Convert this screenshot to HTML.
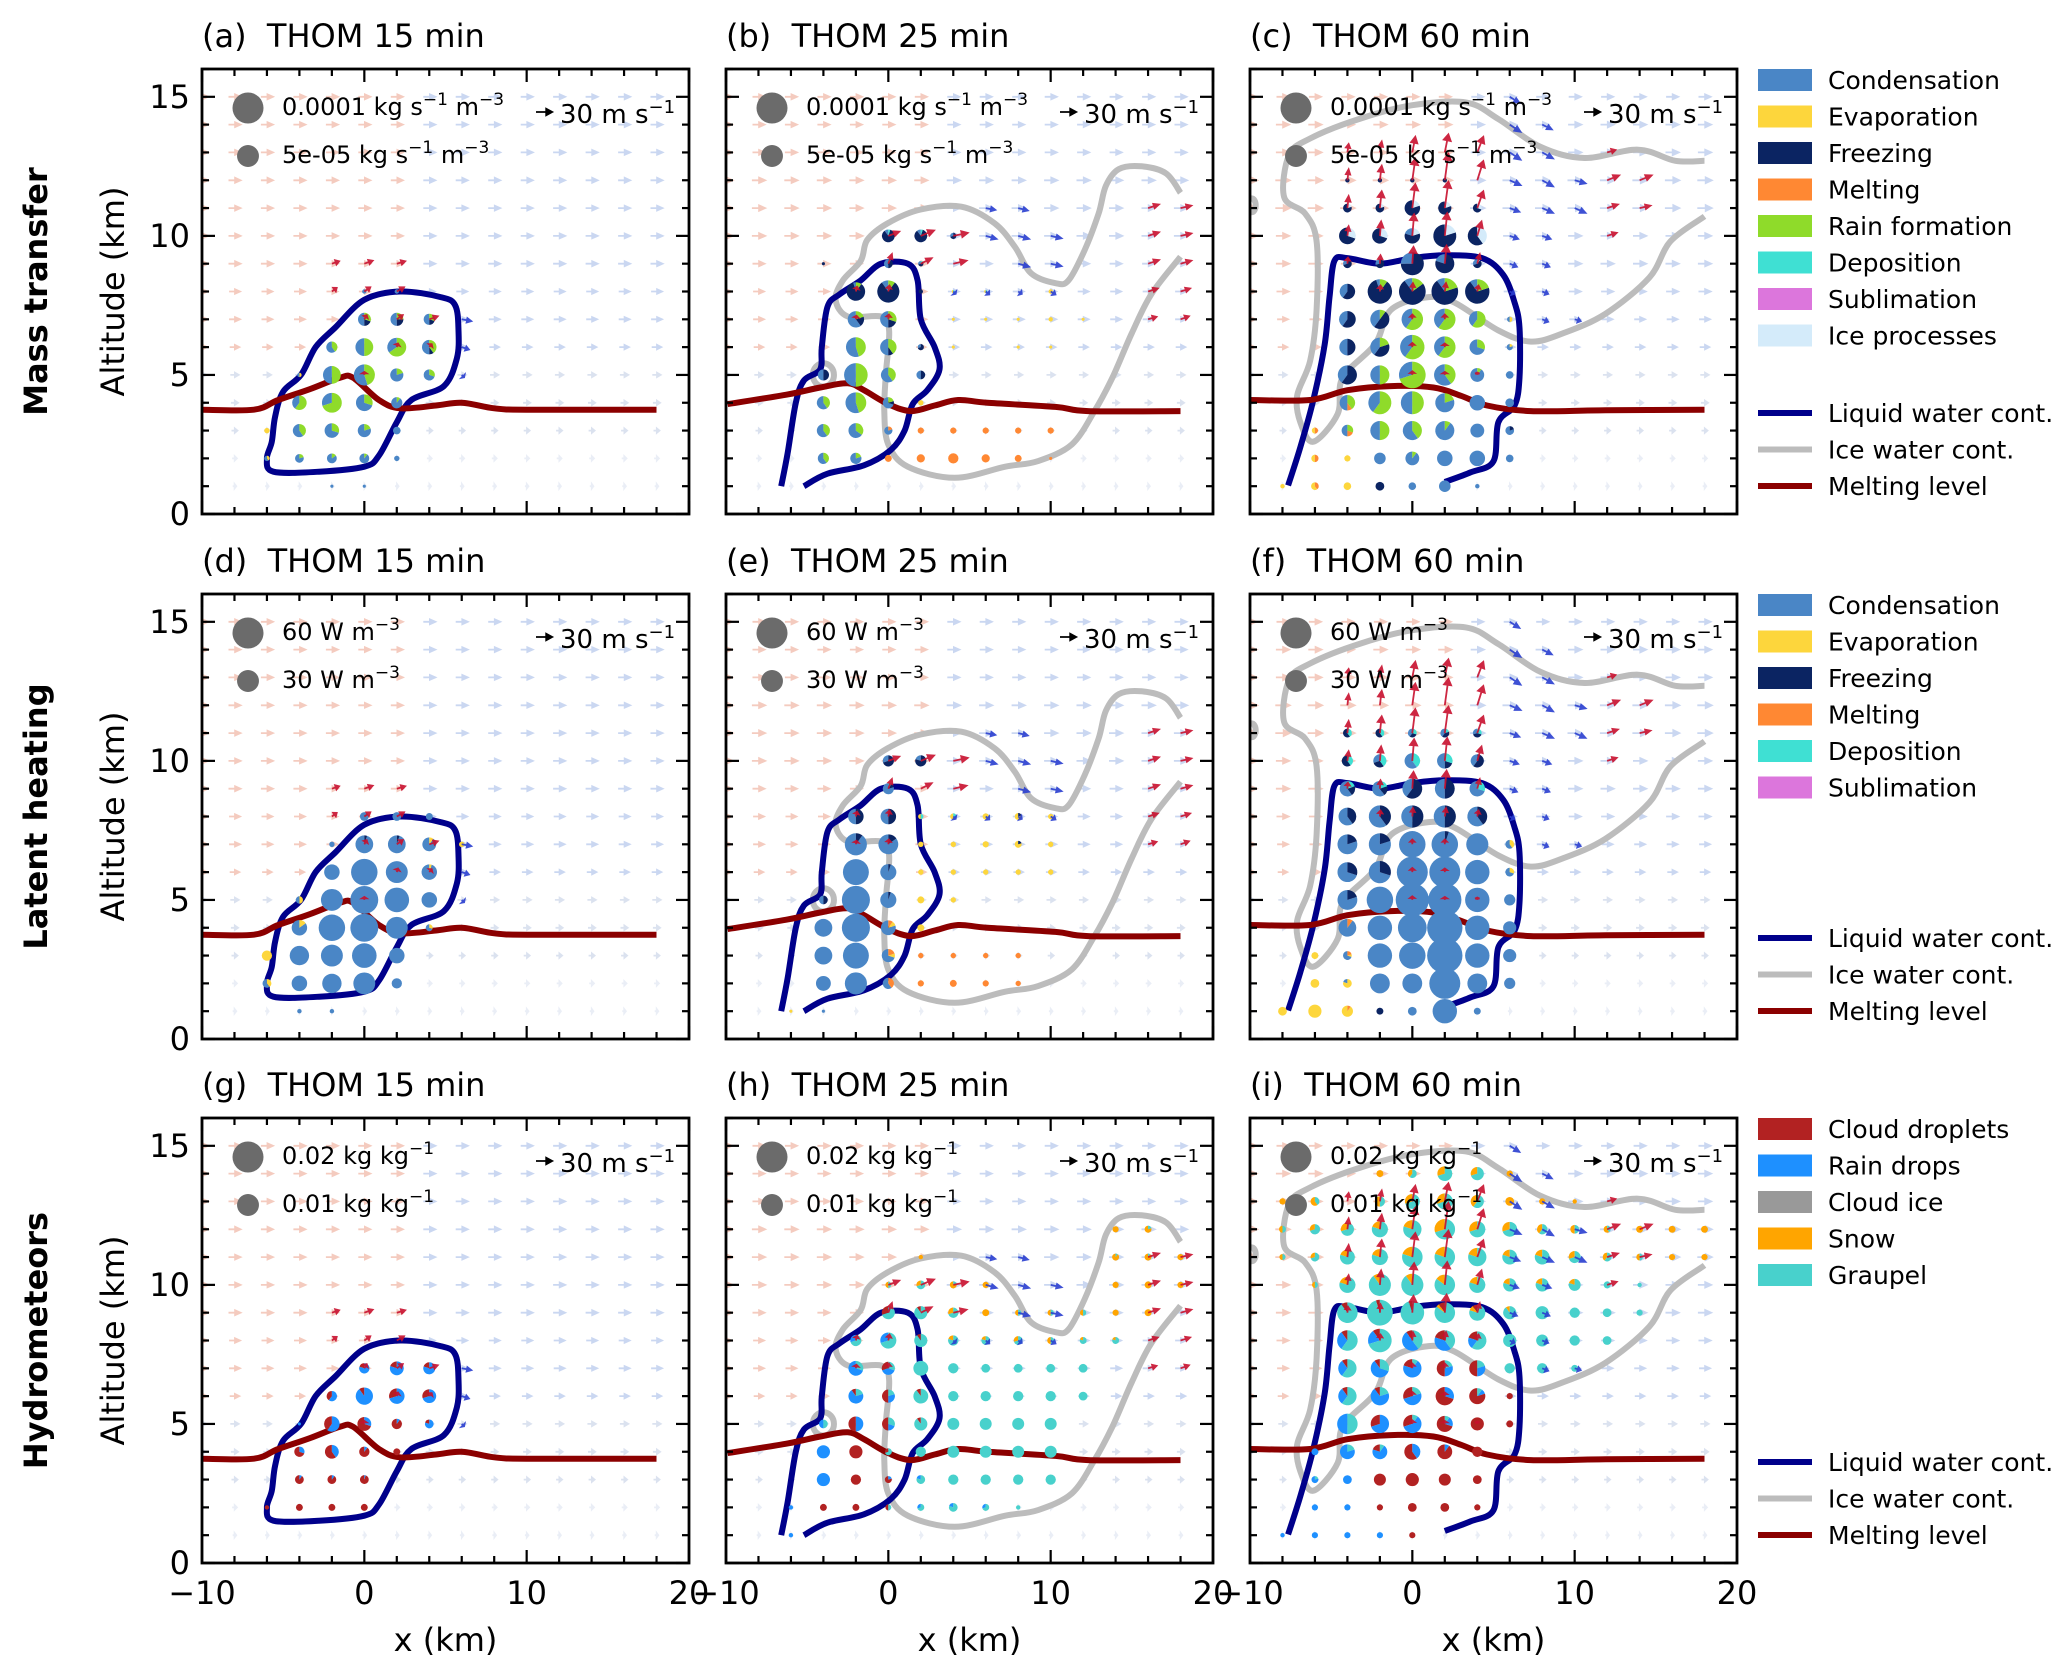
<!DOCTYPE html>
<html><head><meta charset="utf-8"><title>THOM microphysics panels</title>
<style>
html,body{margin:0;padding:0;background:#fff;}
svg{display:block;font-family:"DejaVu Sans","Liberation Sans",sans-serif;}
</style></head>
<body>
<svg id="fig" width="2067" height="1675" viewBox="0 0 2067 1675" xmlns="http://www.w3.org/2000/svg">
<rect width="2067" height="1675" fill="#fff"/>
</svg>
<script>
// ---------------- data ----------------
const panelLetters = ["a","b","c","d","e","f","g","h","i"];
const panelTimes = ["15 min","25 min","60 min"];
const rowNames = ["Mass transfer","Latent heating","Hydrometeors"];
const xTicks = [-10,0,10,20];
const xTickLabels = ["\u221210","0","10","20"];
const yTicks = [0,5,10,15];
const yTickLabels = ["0","5","10","15"];
const row1Cats = ["Condensation","Evaporation","Freezing","Melting","Rain formation","Deposition","Sublimation","Ice processes"];
const row1Colors = ["#4a86c6","#fdd63c","#0b2462","#ff8833","#8fdb2a","#3fe0d3","#dc76dc","#d4ebfa"];
const row2Cats = ["Condensation","Evaporation","Freezing","Melting","Deposition","Sublimation"];
const row2Colors = ["#4a86c6","#fdd63c","#0b2462","#ff8833","#3fe0d3","#dc76dc"];
const row3Cats = ["Cloud droplets","Rain drops","Cloud ice","Snow","Graupel"];
const row3Colors = ["#b22222","#1e90ff","#999999","#ffa500","#48d1cc"];
// size legend labels: [base, sup1, middle, sup2]
const sizeBig = [["0.0001 kg s","\u22121"," m","\u22123"],["60 W m","\u22123","",""],["0.02 kg kg","\u22121","",""]];
const sizeSmall = [["5e-05 kg s","\u22121"," m","\u22123"],["30 W m","\u22123","",""],["0.01 kg kg","\u22121","",""]];
const sizeBigVal = [1.0,1.0,1.0];
const sizeSmallVal = [0.5,0.5,0.5];

// contours (x km, altitude km)
const lwc_a = [[-6,2.0],[-5.6,1.52],[-2.8,1.52],[0,1.7],[0.9,2.1],[2,3.3],[2.9,4.1],[4.9,4.6],[5.7,5.6],[5.8,6.6],[5.6,7.5],[4.7,7.8],[2.2,8.0],[0,7.7],[-1.8,6.7],[-3,6],[-3.9,5],[-5,4.4],[-5.5,3.5],[-5.7,2.6]];
const ml_a = [[-10,3.75],[-6.8,3.75],[-5.3,4.1],[-3.3,4.5],[-1.5,4.9],[-0.7,4.9],[0.9,4.1],[2.2,3.8],[4.4,3.9],[6,4.0],[8,3.8],[10,3.75],[18,3.75]];
const lwc_b = [[-6.6,1.0],[-6.2,2.2],[-5.7,4.0],[-5.2,4.8],[-4.2,5.2],[-4.1,6.0],[-3.75,7.45],[-3.0,7.9],[-1.7,8.4],[-0.45,9.0],[1.2,9.0],[1.8,8.4],[2.0,7.0],[2.85,6.0],[3.15,5.2],[2.4,4.45],[1.5,3.95],[1.0,3.0],[0.15,2.3],[-1.5,1.75],[-3.75,1.45],[-5.2,1.0]];
const iwc_b = [[18,9.25],[16.2,7.9],[15,6.5],[13.8,4.9],[12.7,3.7],[11.3,2.5],[9.2,1.9],[7.2,1.7],[4.1,1.3],[1.2,1.7],[0,2.5],[-0.25,3.7],[-0.15,5.05],[0.05,6.6],[-0.45,7.1],[-2.5,7.1],[-3.25,7.7],[-2.8,8.4],[-1.7,9.1],[-1.3,9.85],[-0.05,10.45],[2,10.95],[4.5,11.05],[6.55,10.45],[7.8,9.6],[8.8,8.65],[10.3,8.3],[11.1,8.4],[12.1,9.5],[12.95,10.8],[13.4,11.8],[14.2,12.4],[15.6,12.5],[17.1,12.25],[18,11.55]];
const iwc_b_ring = [[-4,5],[0.65,0.42]];
const ml_b = [[-9.9,3.95],[-6.2,4.3],[-4.2,4.55],[-2.5,4.7],[-1.5,4.45],[0,3.95],[1.4,3.7],[2.85,3.9],[4.3,4.1],[6.1,4.0],[10.3,3.85],[12.3,3.7],[18,3.7]];
const lwc_c = [[-7.65,1.03],[-6.9,2.4],[-6.1,4.1],[-5.4,6.1],[-5.1,7.8],[-4.8,9.1],[-4,9.2],[-2,9.0],[0,9.2],[2,9.3],[4.3,9.2],[5.6,8.6],[6.3,7.6],[6.6,6.7],[6.6,4.9],[6.3,3.9],[5.3,3.3],[5,1.9],[3.6,1.5],[2,1.15]];
const iwc_c = [[18,12.7],[16.2,12.7],[13.9,13.1],[10.6,12.8],[7.9,13.2],[5.3,14.2],[3.3,14.8],[0,14.7],[-3.3,14.2],[-6.3,13.5],[-7.6,12.9],[-7.9,11.4],[-6.6,10.8],[-5.9,9.8],[-5.9,7.35],[-6.3,5.5],[-7.1,4.25],[-6.9,3.3],[-6.1,2.6],[-4.6,3.6],[-4.3,4.9],[-2.3,6.1],[-1.3,7.35],[1,7.8],[2.6,7.6],[5.3,6.6],[7.3,6.2],[9.3,6.5],[11.9,7.2],[14.6,8.5],[15.9,9.8],[18,10.7]];
const iwc_c_blob = [[-9.9,11.1],[0.25,0.25]];
const ml_c = [[-10,4.1],[-6.3,4.1],[-4,4.45],[-1.3,4.6],[1.3,4.55],[3,4.25],[4.6,3.9],[7.3,3.7],[11.9,3.73],[18,3.75]];

// pies: [x km, altitude km, value (legend units), fractions by category]
const pies_a = [[0,7,.18,[.5,0,.2,0,.3]],[2,7,.18,[.5,0,.25,0,.25]],[4,7,.13,[.5,0,.2,0,.3]],
[-2,6,.13,[.6,0,0,0,.4]],[0,6,.33,[.5,0,0,0,.5]],[2,6,.37,[.35,0,0,0,.65]],[4,6,.22,[.5,0,.1,0,.4]],
[-2,5,.33,[.5,0,0,0,.5]],[0,5,.46,[.55,0,0,0,.45]],[2,5,.18,[.8,0,0,0,.2]],[4,5,.13,[.7,0,0,0,.3]],
[-4,4,.22,[.4,0,0,0,.6]],[-2,4,.41,[.3,0,0,0,.7]],[0,4,.29,[.7,0,0,0,.3]],[2,4,.13,[.9,0,0,0,.1]],
[-4,3,.18,[.6,0,0,0,.4]],[-2,3,.22,[.7,0,0,0,.3]],[0,3,.18,[.8,0,0,0,.2]],[2,3,.06,[1]],
[-4,2,.08,[.8,0,0,0,.2]],[-2,2,.1,[.85,0,0,0,.15]],[0,2,.1,[.9,0,0,0,.1]],[2,2,.03,[1]],
[-6,3,.03,[0,1]],[-6,2,.03,[.6,.4]],[-2,1,.01,[1]],[0,1,.01,[1]],[-4,5,.02,[.5,.5]],[0,8,.02,[1]],[2,8,.02,[1]]];
const pies_b = [[0,10,.17,[.1,0,.85,0,0,.05]],[2,10,.17,[.1,0,.85,0,0,.05]],[4,10,.04,[.3,0,.7]],
[0,9,.08,[.5,0,.4,0,0,.1]],[2,9,.03,[.3,0,.6,0,0,.1]],[-4,9,.01,[0,0,1]],
[-2,8,.36,[.05,0,.85,0,.1]],[0,8,.51,[.1,0,.8,0,.1]],[2,8,.02,[0,0,1]],
[-2,7,.28,[.6,0,.2,0,.2]],[0,7,.28,[.5,0,.2,0,.3]],
[-2,6,.41,[.55,0,0,0,.45]],[0,6,.28,[.5,0,.1,0,.4]],[2,6,.04,[.3,0,.7]],
[-4,5,.13,[.5,0,.5]],[-2,5,.58,[.5,0,0,0,.5]],[0,5,.23,[.6,0,0,0,.4]],[2,5,.08,[.5,0,.5]],
[-4,4,.18,[.6,0,0,0,.4]],[-2,4,.45,[.55,0,0,0,.45]],[0,4,.13,[.7,0,.1,0,.2]],[2,4,.03,[0,1]],
[-4,3,.18,[.6,0,0,0,.4]],[-2,3,.23,[.65,0,0,0,.35]],[0,3,.07,[.8,0,0,.2]],
[2,3,.04,[0,0,0,1]],[4,3,.04,[0,0,0,1]],[6,3,.04,[0,0,0,1]],[8,3,.04,[0,0,0,1]],[10,3,.04,[0,0,0,1]],
[-4,2,.13,[.6,0,0,0,.4]],[-2,2,.13,[.8,0,0,0,.2]],[0,2,.05,[0,0,0,1]],[2,2,.07,[0,0,0,1]],[4,2,.11,[0,0,0,1]],[6,2,.07,[0,0,0,1]],[8,2,.05,[0,0,0,1]],[10,2,.01,[0,0,0,1]],
[4,8,.01,[0,.5,0,0,0,.5]],[6,8,.01,[0,.5,0,0,0,.5]],[10,8,.02,[0,1]],[4,7,.01,[0,1]],[6,7,.01,[0,1]],[8,7,.01,[0,1]],[10,7,.02,[0,1]],[12,7,.01,[0,1]],[4,6,.01,[0,1]],[8,6,.01,[0,1]],[10,6,.01,[0,1]]];
const pies_c = [[-4,12,.02,[0,0,1]],[-2,12,.02,[0,0,1]],[0,12,.02,[0,0,1]],[2,12,.02,[0,0,1]],
[-4,11,.08,[0,0,.8,0,0,0,0,.2]],[-2,11,.08,[0,0,.8,0,0,0,0,.2]],[0,11,.25,[0,0,.8,0,0,0,0,.2]],[2,11,.18,[0,0,.8,0,0,0,0,.2]],[4,11,.08,[0,0,.7,0,0,0,0,.3]],
[-4,10,.29,[0,0,.7,0,0,0,0,.3]],[-2,10,.25,[0,0,.7,0,0,0,0,.3]],[0,10,.25,[.2,0,.6,0,0,0,0,.2]],[2,10,.55,[0,0,.8,0,0,0,0,.2]],[4,10,.38,[0,0,.6,0,0,0,0,.4]],
[-4,9,.08,[.3,0,.7]],[-2,9,.08,[.3,0,.7]],[0,9,.55,[.25,0,.75]],[2,9,.38,[.2,0,.8]],[4,9,.08,[.3,0,.6,0,0,0,0,.1]],
[-4,8,.25,[.4,0,.6]],[-2,8,.62,[.05,0,.85,0,.1]],[0,8,.74,[.1,0,.75,0,.15]],[2,8,.74,[.1,0,.7,0,.2]],[4,8,.62,[.1,0,.7,0,.2]],
[-4,7,.29,[.4,0,.6]],[-2,7,.38,[.4,0,.5,0,.1]],[0,7,.48,[.4,0,0,0,.6]],[2,7,.48,[.4,0,0,0,.6]],[4,7,.29,[.4,0,0,0,.6]],[6,7,.03,[.5,.5]],
[-4,6,.29,[.5,0,.5]],[-2,6,.38,[.4,0,.4,0,.2]],[0,6,.62,[.4,0,0,0,.6]],[2,6,.48,[.4,0,0,0,.6]],[4,6,.25,[.7,0,0,0,.3]],[6,6,.04,[.8,.2]],
[-4,5,.38,[.4,0,.6]],[-2,5,.38,[.5,0,0,0,.5]],[0,5,.74,[.3,0,0,0,.7]],[2,5,.48,[.6,0,0,0,.4]],[4,5,.2,[.9,0,0,0,.1]],[6,5,.06,[1]],
[-4,4,.25,[.5,0,0,.1,.4]],[-2,4,.55,[.4,0,0,0,.6]],[0,4,.55,[.5,0,0,0,.5]],[2,4,.38,[.8,0,0,0,.2]],[4,4,.25,[1]],[6,4,.08,[1]],
[-6,3,.04,[0,.5,0,.5]],[-4,3,.14,[.5,0,0,.2,.3]],[-2,3,.38,[.5,0,0,0,.5]],[0,3,.38,[.6,0,0,0,.4]],[2,3,.38,[.9,0,0,0,.1]],[4,3,.2,[1]],[6,3,.08,[.8,0,.2]],
[-6,2,.06,[0,.5,0,.5]],[-4,2,.04,[0,1]],[-2,2,.14,[1]],[0,2,.2,[.9,0,0,0,.1]],[2,2,.25,[1]],[4,2,.25,[1]],[6,2,.06,[1]],
[-8,1,.02,[0,1]],[-6,1,.06,[0,.6,0,.4]],[-4,1,.06,[0,1]],[-2,1,.08,[0,0,1]],[0,1,.06,[1]],[2,1,.14,[1]],[4,1,.02,[1]]];

const pies_d = [[0,8,.08,[1]],[2,8,.08,[1]],[4,8,.05,[1]],
[0,7,.33,[.95,0,.05]],[2,7,.33,[.95,0,.05]],[4,7,.2,[.9,.1]],[-2,7,.03,[1]],[6,7,.03,[0,1]],
[-2,6,.25,[1]],[0,6,.73,[1]],[2,6,.5,[1]],[4,6,.25,[.95,.05]],
[-2,5,.5,[1]],[0,5,.81,[1]],[2,5,.63,[1]],[4,5,.25,[1]],[-4,5,.06,[.5,.5]],
[-4,4,.25,[.85,.15]],[-2,4,.73,[1]],[0,4,.81,[1]],[2,4,.5,[1]],[4,4,.05,[.7,.3]],
[-6,3,.11,[0,1]],[-4,3,.39,[1]],[-2,3,.5,[1]],[0,3,.63,[1]],[2,3,.25,[1]],
[-6,2,.08,[.6,.4]],[-4,2,.25,[1]],[-2,2,.39,[1]],[0,2,.5,[1]],[2,2,.11,[1]],
[-4,1,.02,[1]],[-2,1,.02,[1]]];
const pies_e = [[0,10,.13,[.3,0,.7]],[2,10,.13,[.2,0,.8]],
[0,9,.13,[.8,0,.1,0,.1]],
[-2,8,.25,[.5,0,.5]],[0,8,.25,[.5,0,.5]],
[-2,7,.51,[.9,0,.1]],[0,7,.41,[.85,0,.15]],
[-2,6,.7,[1]],[0,6,.27,[.95,0,.05]],
[-4,5,.08,[.5,0,.5]],[-2,5,.82,[1]],[0,5,.27,[.95,0,.05]],
[-4,4,.33,[1]],[-2,4,.82,[1]],[0,4,.23,[.8,.1,0,.1]],
[-4,3,.33,[1]],[-2,3,.7,[1]],[0,3,.18,[.7,.1,0,.2]],
[-4,2,.23,[1]],[-2,2,.51,[1]],[0,2,.13,[.6,0,0,.4]],
[2,8,.03,[0,.5,0,0,.5]],[4,8,.04,[0,.6,0,0,.4]],[6,8,.04,[0,1]],[8,8,.05,[0,.8,.2]],[10,8,.03,[0,1]],
[2,7,.03,[0,1]],[4,7,.03,[0,1]],[6,7,.04,[0,1]],[8,7,.05,[0,.8,.2]],[10,7,.03,[0,1]],
[2,6,.03,[0,1]],[4,6,.03,[0,1]],[6,6,.03,[0,1]],[8,6,.03,[0,1]],[10,6,.03,[0,1]],
[2,5,.05,[0,1]],[4,5,.03,[0,1]],[2,4,.05,[0,1]],
[2,3,.03,[0,0,0,1]],[4,3,.03,[0,0,0,1]],[6,3,.03,[0,0,0,1]],[8,3,.03,[0,0,0,1]],
[2,2,.04,[0,0,0,1]],[4,2,.05,[0,0,0,1]],[6,2,.04,[0,0,0,1]],[8,2,.03,[0,0,0,1]],[-4,1,.01,[1]],[-6,1,.01,[0,1]]];
const pies_f = [[-4,11,.08,[0,0,.6,0,.4]],[-2,11,.08,[0,0,.6,0,.4]],[0,11,.08,[.4,0,.3,0,.3]],[2,11,.08,[.4,0,.4,0,.2]],[4,11,.08,[.3,0,.4,0,.3]],
[-4,10,.13,[0,0,.6,0,.4]],[-2,10,.18,[.3,0,.3,0,.4]],[0,10,.25,[.6,0,0,0,.4]],[2,10,.25,[.5,0,.2,0,.3]],[4,10,.18,[.4,0,.6]],
[-4,9,.25,[.6,0,.2,0,.2]],[-2,9,.25,[.6,0,.2,0,.2]],[0,9,.41,[.4,0,.6]],[2,9,.41,[.5,0,.5]],[4,9,.25,[.7,0,0,0,.3]],
[-4,8,.33,[.6,0,.4]],[-2,8,.51,[.6,0,.4]],[0,8,.51,[.5,0,.5]],[2,8,.51,[.5,0,.5]],[4,8,.41,[.6,0,.4]],
[-4,7,.41,[.8,0,.2]],[-2,7,.51,[.8,0,.2]],[0,7,.73,[1]],[2,7,.73,[.95,0,.05]],[4,7,.51,[1]],[6,7,.08,[.6,.4]],
[-4,6,.41,[.7,0,.3]],[-2,6,.51,[.7,0,.3]],[0,6,1.0,[1]],[2,6,1.0,[1]],[4,6,.62,[1]],[6,6,.08,[.7,.3]],
[-4,5,.41,[.8,0,.2]],[-2,5,.73,[1]],[0,5,1.15,[1]],[2,5,1.15,[1]],[4,5,.62,[1]],[6,5,.13,[1]],
[-4,4,.33,[.9,0,0,.1]],[-2,4,.62,[1]],[0,4,.86,[1]],[2,4,1.3,[1]],[4,4,.62,[1]],[6,4,.18,[1]],
[-6,3,.05,[0,1]],[-4,3,.08,[.7,.1,0,.2]],[-2,3,.62,[1]],[0,3,.73,[1]],[2,3,1.3,[1]],[4,3,.62,[1]],[6,3,.18,[1]],
[-6,2,.08,[0,1]],[-4,2,.08,[.2,.8]],[-2,2,.41,[1]],[0,2,.41,[1]],[2,2,1.0,[1]],[4,2,.41,[1]],[6,2,.13,[1]],
[-8,1,.08,[0,1]],[-6,1,.18,[0,1]],[-4,1,.13,[0,.9,0,.1]],[-2,1,.05,[0,0,1]],[0,1,.08,[1]],[2,1,.62,[1]],[4,1,.05,[1]]];

const pies_g = [[0,7,.11,[.2,.8]],[2,7,.2,[.2,.8]],[4,7,.15,[.2,.8]],
[-2,6,.11,[.4,.6]],[0,6,.31,[.1,.9]],[2,6,.25,[.3,.7]],[4,6,.2,[.3,.7]],
[-2,5,.25,[.4,.6]],[0,5,.2,[.7,.3]],[2,5,.11,[.9,.1]],[4,5,.08,[.2,.8]],
[-4,4,.11,[.7,.3]],[-2,4,.2,[.6,.4]],[0,4,.11,[.9,.1]],[2,4,.05,[1]],
[-4,3,.08,[.9,.1]],[-2,3,.08,[.9,.1]],[0,3,.08,[.95,.05]],
[-4,2,.05,[1]],[-2,2,.05,[1]],[0,2,.05,[1]],[-6,2,.02,[1]],[-4,5,.01,[0,1]]];
const pies_h = [[14,12,.04,[0,0,0,1]],[16,12,.05,[0,0,0,.8,.2]],
[14,11,.05,[0,0,0,.9,.1]],[16,11,.05,[0,0,0,.9,.1]],[18,11,.04,[0,0,0,1]],[2,11,.02,[0,0,0,1]],
[0,10,.04,[0,0,0,.5,.5]],[2,10,.08,[0,0,0,.3,.7]],[4,10,.05,[0,0,0,.8,.2]],[6,10,.04,[0,0,0,1]],[14,10,.04,[0,0,0,1]],[16,10,.05,[0,0,0,1]],[18,10,.04,[0,0,0,1]],
[0,9,.18,[.3,0,0,0,.7]],[2,9,.18,[.1,0,0,0,.9]],[4,9,.11,[0,0,0,.3,.7]],[6,9,.05,[0,0,0,1]],[8,9,.04,[0,0,0,.5,.5]],[10,9,.04,[0,0,0,.5,.5]],[12,9,.04,[0,0,0,.5,.5]],[14,9,.04,[0,0,0,1]],[16,9,.05,[0,0,0,1]],
[-2,8,.13,[0,.3,0,0,.7]],[0,8,.27,[0,.3,0,0,.7]],[2,8,.18,[.1,0,0,0,.9]],[4,8,.11,[0,0,0,.2,.8]],[6,8,.08,[0,0,0,.2,.8]],[8,8,.08,[0,0,0,.3,.7]],[10,8,.05,[0,0,0,.5,.5]],[12,8,.05,[0,0,0,.2,.8]],[14,8,.05,[0,0,0,.2,.8]],
[-2,7,.23,[0,.7,0,0,.3]],[0,7,.18,[.3,.4,0,0,.3]],[2,7,.23,[0,0,0,0,1]],[4,7,.11,[0,0,0,0,1]],[6,7,.08,[0,0,0,0,1]],[8,7,.08,[0,0,0,0,1]],[10,7,.08,[0,0,0,0,1]],[12,7,.08,[0,0,0,0,1]],
[-2,6,.23,[.1,.7,0,0,.2]],[0,6,.18,[.5,.3,0,0,.2]],[2,6,.23,[.1,0,0,0,.9]],[4,6,.11,[0,0,0,0,1]],[6,6,.11,[0,0,0,0,1]],[8,6,.11,[0,0,0,0,1]],[10,6,.11,[0,0,0,0,1]],[12,6,.08,[0,0,0,0,1]],
[-4,5,.08,[0,.5,0,0,.5]],[-2,5,.23,[.5,.5]],[0,5,.18,[.5,.2,0,0,.3]],[2,5,.18,[.1,0,0,0,.9]],[4,5,.15,[0,0,0,0,1]],[6,5,.15,[0,0,0,0,1]],[8,5,.15,[0,0,0,0,1]],[10,5,.15,[0,0,0,0,1]],
[-4,4,.18,[0,1]],[-2,4,.18,[1]],[0,4,.05,[.3,0,0,0,.7]],[2,4,.11,[0,0,0,0,1]],[4,4,.15,[0,0,0,0,1]],[6,4,.15,[0,0,0,0,1]],[8,4,.15,[0,0,0,0,1]],[10,4,.15,[0,0,0,0,1]],
[-4,3,.18,[0,1]],[-2,3,.11,[1]],[0,3,.05,[.8,.2]],[2,3,.08,[0,.2,0,0,.8]],[4,3,.11,[0,0,0,0,1]],[6,3,.11,[0,0,0,0,1]],[8,3,.11,[0,0,0,0,1]],[10,3,.11,[0,0,0,0,1]],
[-4,2,.05,[1]],[-2,2,.05,[1]],[0,2,.04,[.5,0,0,0,.5]],[2,2,.05,[0,.3,0,0,.7]],[4,2,.08,[0,.2,0,0,.8]],[6,2,.05,[0,.3,0,0,.7]],[8,2,.02,[0,0,0,0,1]],
[-6,2,.02,[0,1]],[-6,1,.02,[0,1]]];
const pies_i = [[-2,14,.05,[0,0,0,1]],[0,14,.08,[0,0,0,.4,.6]],[2,14,.23,[0,0,0,.3,.7]],[4,14,.18,[0,0,0,.3,.7]],[6,14,.04,[0,0,0,1]],
[-8,13,.04,[0,0,0,1]],[-6,13,.08,[0,0,0,.6,.4]],[-2,13,.11,[0,0,0,.5,.5]],[0,13,.23,[0,0,0,.3,.7]],[2,13,.27,[0,0,0,.3,.7]],[4,13,.18,[0,0,0,.4,.6]],[6,13,.08,[0,0,0,1]],[8,13,.04,[0,0,0,1]],[10,13,.02,[0,0,0,1]],
[-8,12,.05,[0,0,0,.5,.5]],[-6,12,.11,[0,0,0,.3,.7]],[-4,12,.18,[0,0,0,.3,.7]],[-2,12,.27,[0,0,0,.2,.8]],[0,12,.35,[0,0,0,.2,.8]],[2,12,.44,[0,0,0,.3,.7]],[4,12,.27,[0,0,0,.3,.7]],[6,12,.23,[0,0,0,.3,.7]],[8,12,.11,[0,0,0,.4,.6]],[10,12,.08,[0,0,0,.5,.5]],[12,12,.05,[0,0,0,.6,.4]],[14,12,.05,[0,0,0,1]],[16,12,.05,[0,0,0,1]],[18,12,.05,[0,0,0,1]],
[-8,11,.04,[0,0,0,.5,.5]],[-6,11,.08,[0,0,0,.3,.7]],[-4,11,.23,[0,0,0,.2,.8]],[-2,11,.27,[0,0,0,.2,.8]],[0,11,.44,[0,0,0,.2,.8]],[2,11,.44,[0,0,0,.2,.8]],[4,11,.35,[0,0,0,.2,.8]],[6,11,.23,[0,0,0,.2,.8]],[8,11,.23,[0,0,0,.2,.8]],[10,11,.15,[0,0,0,.3,.7]],[12,11,.08,[0,0,0,.4,.6]],[14,11,.05,[0,0,0,.5,.5]],[16,11,.04,[0,0,0,1]],[18,11,.04,[0,0,0,1]],
[-6,10,.04,[0,0,0,.5,.5]],[-4,10,.27,[0,0,0,.2,.8]],[-2,10,.51,[0,0,0,.1,.9]],[0,10,.51,[0,0,0,.1,.9]],[2,10,.44,[0,0,0,.15,.85]],[4,10,.27,[0,0,0,.2,.8]],[6,10,.18,[0,0,0,.2,.8]],[8,10,.18,[0,0,0,.2,.8]],[10,10,.15,[0,0,0,.2,.8]],[12,10,.05,[0,0,0,0,1]],[14,10,.02,[0,0,0,0,1]],
[-4,9,.44,[.1,0,0,0,.9]],[-2,9,.69,[.05,0,0,0,.95]],[0,9,.58,[.05,0,0,0,.95]],[2,9,.44,[.1,0,0,.05,.85]],[4,9,.27,[.1,0,0,.1,.8]],[6,9,.18,[0,0,0,.1,.9]],[8,9,.18,[0,0,0,0,1]],[10,9,.11,[0,0,0,0,1]],[12,9,.08,[0,0,0,0,1]],[14,9,.04,[0,0,0,0,1]],
[-4,8,.44,[.1,.3,0,0,.6]],[-2,8,.58,[.1,.2,0,0,.7]],[0,8,.44,[.1,.5,0,0,.4]],[2,8,.44,[.2,.4,0,0,.4]],[4,8,.35,[.2,.2,0,0,.6]],[6,8,.18,[0,0,0,0,1]],[8,8,.15,[0,0,0,0,1]],[10,8,.11,[0,0,0,0,1]],[12,8,.08,[0,0,0,0,1]],
[-4,7,.35,[.1,.3,0,0,.6]],[-2,7,.35,[.1,.6,0,0,.3]],[0,7,.35,[.2,.7,0,0,.1]],[2,7,.27,[.5,.3,0,0,.2]],[4,7,.27,[.5,.3,0,0,.2]],[6,7,.11,[0,0,0,0,1]],[8,7,.11,[0,0,0,0,1]],[10,7,.05,[0,0,0,0,1]],
[-4,6,.35,[.1,.3,0,0,.6]],[-2,6,.35,[.1,.7,0,0,.2]],[0,6,.35,[.3,.5,0,0,.2]],[2,6,.35,[.7,.3]],[4,6,.27,[.8,.1,0,0,.1]],[6,6,.04,[1]],
[-4,5,.44,[0,.5,0,0,.5]],[-2,5,.35,[.3,.7]],[0,5,.35,[.3,.6,0,0,.1]],[2,5,.27,[.7,.2,0,0,.1]],[4,5,.18,[1]],[6,5,.05,[1]],
[-6,4,.05,[0,1]],[-4,4,.23,[0,.8,0,0,.2]],[-2,4,.23,[.2,.7,0,0,.1]],[0,4,.27,[.6,.4]],[2,4,.23,[.9,.1]],[4,4,.11,[1]],
[-6,3,.05,[0,.8,0,0,.2]],[-4,3,.08,[0,1]],[-2,3,.15,[1]],[0,3,.18,[1]],[2,3,.15,[1]],[4,3,.08,[1]],
[-6,2,.04,[0,1]],[-4,2,.04,[0,1]],[-2,2,.04,[1]],[0,2,.08,[1]],[2,2,.08,[1]],[4,2,.04,[1]],
[-8,1,.02,[0,1]],[-6,1,.04,[0,1]],[-4,1,.04,[0,1]],[-2,1,.04,[0,1]],[0,1,.04,[1]]];

// wind: background horizontal wind by level (m/s), levels 1..15
const windLevels = [1,2,3,4,5,6,7,8,9,10,11,12,13,14,15];
const windU_a = [6,8,10,12,14,16,18,18,20,20,20,20,20,20,20];
const windU_b = [6,8,10,12,14,16,18,18,20,22,22,22,20,20,20];
const windU_c = [6,8,10,12,14,16,18,20,22,22,24,24,22,22,20];
// notable arrows: [x km, altitude km, u m/s, w m/s]
const strong_a = [[-2,9,12,4],[0,9,14,5],[2,9,14,4],[-2,8,8,6],[0,8,10,7],[2,8,12,7],[0,7,4,7],[2,7,10,7],[4,7,14,5],[2,6,2,6],[4,6,4,5],[0,5,0,5],[6,7,16,-3],[6,6,12,-4],[6,5,4,-4]];
const strong_b = [[0,10,18,7],[2,10,22,9],[4,10,24,5],[0,9,6,16],[2,9,18,9],[4,9,22,5],[-2,8,2,8],[0,8,2,10],[0,7,1,8],[-2,7,1,6],[6,10,18,-5],[8,10,18,-5],[10,10,18,-4],[8,9,18,-5],[10,9,18,-4],[6,11,16,-3],[8,11,16,-4],
[16,11,18,6],[18,11,18,4],[16,10,18,6],[18,10,18,4],[16,9,18,6],[18,9,18,5],[16,8,16,5],[18,8,16,5],[16,7,14,4],[18,7,14,5],[4,8,4,-4],[6,8,6,-5],[8,8,6,-4],[10,8,8,-5]];
const strong_c = [[-4,13,2,14],[-2,13,3,18],[0,13,5,26],[2,13,6,30],[4,13,10,26],[-4,12,2,18],[-2,12,3,24],[0,12,5,36],[2,12,6,44],[4,12,10,32],
[-4,11,2,20],[-2,11,3,28],[0,11,5,40],[2,11,6,44],[4,11,10,28],[-4,10,2,16],[-2,10,2,24],[0,10,3,36],[2,10,4,38],[4,10,7,24],
[-4,9,1,10],[-2,9,1,14],[0,9,2,28],[2,9,3,30],[4,9,4,16],[-2,8,1,10],[0,8,1,14],[2,8,2,14],[4,8,2,10],
[0,7,0,8],[2,7,0,8],[0,6,0,7],[2,6,0,6],[0,5,0,6],[2,5,0,5],[4,5,0,4],
[6,15,16,-10],[6,14,18,-12],[8,14,16,-8],[6,13,18,-12],[8,13,18,-10],[6,12,18,-8],[8,12,18,-10],[10,12,18,-5],[6,11,16,-6],[8,11,18,-8],[10,11,18,-8],[6,10,14,-5],[8,10,14,-5],[6,9,12,-5],[8,9,12,-5],[6,8,8,-4],[8,8,10,-4],[8,7,10,-4],[10,7,10,-3],
[12,12,20,8],[14,12,20,8],[12,11,18,6],[14,11,18,4],[12,10,16,5],[12,13,14,4]];

// ---------------- layout ----------------
const NS = "http://www.w3.org/2000/svg";
const svg = document.getElementById("fig");
const colLeft = [202,726,1250];
const rowTop = [69,594,1118];
const PW = 487, PH = 445;
const XMIN=-10, XMAX=20, YMIN=0, YMAX=16;
function sx(c,x){return colLeft[c]+(x-XMIN)/(XMAX-XMIN)*PW;}
function sy(r,y){return rowTop[r]+PH-(y-YMIN)/(YMAX-YMIN)*PH;}
const R_BIG = 15.5;
function radius(v){return R_BIG*Math.sqrt(Math.max(v,0));}

function mk(tag,attrs,parent){const e=document.createElementNS(NS,tag);for(const k in attrs)e.setAttribute(k,attrs[k]);(parent||svg).appendChild(e);return e;}
function txt(s,attrs,parent){const e=mk("text",attrs,parent);e.textContent=s;return e;}
function supText(parts,attrs,parent,supSize){
  const e=mk("text",attrs,parent);
  const add=(s,sup)=>{ if(!s)return; const t=document.createElementNS(NS,"tspan"); t.textContent=s; if(sup){t.setAttribute("font-size",supSize);t.setAttribute("baseline-shift","super");} e.appendChild(t); };
  add(parts[0],false); add(parts[1],true); add(parts[2],false); add(parts[3],true);
  return e;
}

function smoothPath(pts,closed){
  const n=pts.length; if(n<2)return "";
  const P=i=>closed?pts[(i+n)%n]:pts[Math.max(0,Math.min(n-1,i))];
  let d="M"+pts[0][0].toFixed(1)+","+pts[0][1].toFixed(1);
  const segs=closed?n:n-1;
  for(let i=0;i<segs;i++){
    const p0=P(i-1),p1=P(i),p2=P(i+1),p3=P(i+2);
    const c1=[p1[0]+(p2[0]-p0[0])/6,p1[1]+(p2[1]-p0[1])/6];
    const c2=[p2[0]-(p3[0]-p1[0])/6,p2[1]-(p3[1]-p1[1])/6];
    d+="C"+c1[0].toFixed(1)+","+c1[1].toFixed(1)+" "+c2[0].toFixed(1)+","+c2[1].toFixed(1)+" "+p2[0].toFixed(1)+","+p2[1].toFixed(1);
  }
  return d+(closed?"Z":"");
}

function drawPie(g,cx,cy,r,fr,colors){
  let tot=0; fr.forEach(f=>tot+=f); if(tot<=0)return;
  let a=Math.PI/2;
  fr.forEach((f,k)=>{
    if(f<=0)return;
    const da=f/tot*2*Math.PI;
    let el;
    if(da>=2*Math.PI-1e-6){
      el=mk("circle",{cx:cx.toFixed(1),cy:cy.toFixed(1),r:r.toFixed(2),fill:colors[k]},g);
    } else {
      const x1=cx+r*Math.cos(a),y1=cy-r*Math.sin(a),x2=cx+r*Math.cos(a+da),y2=cy-r*Math.sin(a+da);
      el=mk("path",{d:`M${cx.toFixed(1)},${cy.toFixed(1)}L${x1.toFixed(2)},${y1.toFixed(2)}A${r.toFixed(2)},${r.toFixed(2)} 0 ${da>Math.PI?1:0} 0 ${x2.toFixed(2)},${y2.toFixed(2)}Z`,fill:colors[k]},g);
    }
    
    
    a+=da;
  });
}

const ARROW_SCALE = 18/30; // px per m/s
function drawArrow(g,x0,y0,u,w,color,op,name){
  const dx=u*ARROW_SCALE, dy=-w*ARROW_SCALE;
  const L=Math.hypot(dx,dy); if(L<0.5)return;
  const ux=dx/L, uy=dy/L;
  const hl=Math.min(6,L*0.45), hw=Math.max(2.2,Math.min(3.5,L*0.2));
  const xe=x0+dx, ye=y0+dy, xb=xe-ux*hl, yb=ye-uy*hl;
  const e=mk("path",{d:`M${x0.toFixed(1)},${y0.toFixed(1)}L${xb.toFixed(1)},${yb.toFixed(1)}M${xe.toFixed(1)},${ye.toFixed(1)}L${(xb-uy*hw).toFixed(1)},${(yb+ux*hw).toFixed(1)}L${(xb+uy*hw).toFixed(1)},${(yb-ux*hw).toFixed(1)}Z`,stroke:color,fill:color,"stroke-width":1.8,opacity:op},g);
  
  
}

const colPies = [[pies_a,pies_b,pies_c],[pies_d,pies_e,pies_f],[pies_g,pies_h,pies_i]];
const rowColors = [row1Colors,row2Colors,row3Colors];
const rowCats = [row1Cats,row2Cats,row3Cats];
const colWind = [windU_a,windU_b,windU_c];
const colStrong = [strong_a,strong_b,strong_c];
const colContours = [
  {lwc:[lwc_a],iwc:[],ml:ml_a,closedL:true},
  {lwc:[lwc_b],iwc:[iwc_b],ml:ml_b,ring:iwc_b_ring},
  {lwc:[lwc_c],iwc:[iwc_c],ml:ml_c,ring:iwc_c_blob}
];

const defs = mk("defs",{});
for(let r=0;r<3;r++)for(let c=0;c<3;c++){
  const cp=mk("clipPath",{id:`clip${r}${c}`},defs);
  mk("rect",{x:colLeft[c],y:rowTop[r],width:PW,height:PH},cp);
}

for(let r=0;r<3;r++){
  for(let c=0;c<3;c++){
    const idx=r*3+c;
    const g=mk("g",{});
    const inner=mk("g",{"clip-path":`url(#clip${r}${c})`,},g);
    const wg=mk("g",{},inner);
    const U=colWind[c];
    for(let li=0;li<windLevels.length;li++){
      for(let x=-10;x<=18;x+=2){
        const upper=windLevels[li]>=6;
        const col = (x<4 && upper) ? "#eeaa95" : (x>=4 && upper ? "#a8bde8" : "#c4cfe6");
        drawArrow(wg,sx(c,x)-U[li]*ARROW_SCALE/2,sy(r,windLevels[li]),U[li],0,col,windLevels[li]<3?0.35:0.6,'wind-arrow');
      }
    }
    const cg=mk("g",{},inner);
    const C=colContours[c];
    C.iwc.forEach(pts=>{
      const e=mk("path",{d:smoothPath(pts.map(p=>[sx(c,p[0]),sy(r,p[1])]),false),fill:"none",stroke:"#bcbcbc","stroke-width":6,"stroke-linejoin":"round"},cg);
      
      
    });
    if(C.ring){
      const e=mk("ellipse",{cx:sx(c,C.ring[0][0]),cy:sy(r,C.ring[0][1]),rx:C.ring[1][0]*PW/30,ry:C.ring[1][1]*PH/16,fill:"none",stroke:"#bcbcbc","stroke-width":6},cg);
      
      
    }
    C.lwc.forEach(pts=>{
      const e=mk("path",{d:smoothPath(pts.map(p=>[sx(c,p[0]),sy(r,p[1])]),!!C.closedL),fill:"none",stroke:"#00008b","stroke-width":6,"stroke-linejoin":"round"},cg);
      
      
    });
    {
      const e=mk("path",{d:smoothPath(C.ml.map(p=>[sx(c,p[0]),sy(r,p[1])]),false),fill:"none",stroke:"#8b0000","stroke-width":6},cg);
      
      
    }
    const pg=mk("g",{},inner);
    colPies[r][c].forEach(p=>{
      const sg=mk("g",{},pg);
      
      
      drawPie(sg,sx(c,p[0]),sy(r,p[1]),radius(p[2]),p[3],rowColors[r]);
    });
    const ag=mk("g",{},inner);
    colStrong[c].forEach(a=>{
      const col=a[3]>0?"#c8102e":"#2a3fd0";
      drawArrow(ag,sx(c,a[0]),sy(r,a[1]),a[2],a[3],col,0.9,'wind-arrow-strong');
    });
    const L=colLeft[c], T=rowTop[r];
    mk("circle",{cx:L+46,cy:T+39,r:radius(sizeBigVal[r]),fill:"#6b6b6b",},g);
    mk("circle",{cx:L+46,cy:T+87,r:radius(sizeSmallVal[r]),fill:"#6b6b6b",},g);
    supText(sizeBig[r],{x:L+80,y:T+46,"font-size":24,fill:"#000",},g,17);
    supText(sizeSmall[r],{x:L+80,y:T+94,"font-size":24,fill:"#000",},g,17);
    const ka=mk("g",{},g);
    drawArrow(ka,L+334,T+43,27,0,"#000",1,'arrow-key-glyph');
    supText(["30 m s","\u22121","",""],{x:L+358,y:T+54,"font-size":26,fill:"#000",},ka,18);
    mk("rect",{x:L,y:T,width:PW,height:PH,fill:"none",stroke:"#000","stroke-width":2.8,},g);
    const tg=mk("g",{stroke:"#000","stroke-width":2.2,},g);
    for(let x=-10;x<=20;x+=2){
      const major=(x%10===0), len=major?13:7, X=sx(c,x);
      mk("line",{x1:X,y1:T+PH,x2:X,y2:T+PH-len},tg);
      mk("line",{x1:X,y1:T,x2:X,y2:T+len},tg);
    }
    for(let y=0;y<=16;y++){
      const major=(y%5===0), len=major?13:7, Y=sy(r,y);
      mk("line",{x1:L,y1:Y,x2:L+len,y2:Y},tg);
      mk("line",{x1:L+PW,y1:Y,x2:L+PW-len,y2:Y},tg);
    }
    txt(`(${panelLetters[idx]})\u00A0\u00A0THOM ${panelTimes[c]}`,{x:L,y:T-22,"font-size":32,fill:"#000",},g);
    if(c===0){
      yTicks.forEach((v,k)=>txt(yTickLabels[k],{x:L-12,y:sy(r,v)+11,"font-size":32,"text-anchor":"end",fill:"#000",},g));
      const cy=T+PH/2;
      txt("Altitude (km)",{x:0,y:0,transform:`translate(124,${cy}) rotate(-90)`,"font-size":32,"text-anchor":"middle",fill:"#000",},g);
      txt(rowNames[r],{x:0,y:0,transform:`translate(47,${cy}) rotate(-90)`,"font-size":32,"font-weight":"bold","text-anchor":"middle",fill:"#000",},g);
    }
    if(r===2){
      xTicks.forEach((v,k)=>txt(xTickLabels[k],{x:sx(c,v),y:T+PH+41,"font-size":32,"text-anchor":"middle",fill:"#000",},g));
      txt("x (km)",{x:L+PW/2,y:T+PH+88,"font-size":32,"text-anchor":"middle",fill:"#000",},g);
    }
  }
  const lg=mk("g",{});
  const T=rowTop[r];
  rowCats[r].forEach((name,k)=>{
    const y=T+11+k*36.5;
    const e=mk("rect",{x:1758,y:y-11,width:54,height:22,fill:rowColors[r][k]},lg);
    
    
    const t=txt(name,{x:1828,y:y+9,"font-size":25,fill:"#000"},lg);
    
    
  });
  const lines=[["Liquid water cont.","#00008b"],["Ice water cont.","#bcbcbc"],["Melting level","#8b0000"]];
  lines.forEach((ln,k)=>{
    const y=T+344+k*36.5;
    const e=mk("line",{x1:1758,y1:y,x2:1812,y2:y,stroke:ln[1],"stroke-width":6},lg);
    
    
    const t=txt(ln[0],{x:1828,y:y+9,"font-size":25,fill:"#000"},lg);
    
    
  });
}
</script>
</body></html>
